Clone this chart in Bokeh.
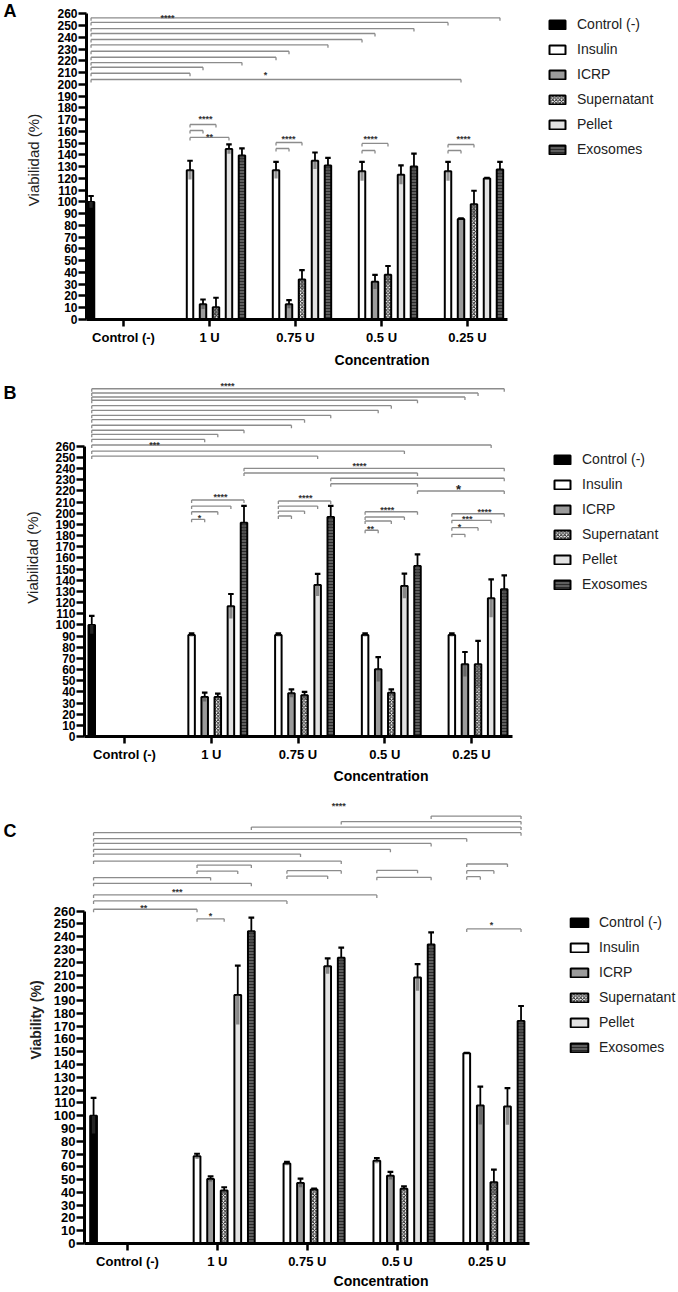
import math
from bokeh.plotting import figure
from bokeh.models import ColumnDataSource, FixedTicker, Legend, LegendItem, Range1d
from bokeh.layouts import column, row
from bokeh.embed import file_html
from bokeh.resources import INLINE
from bokeh.core.properties import value

concentrations = ["Control (-)", "1 U", "0.75 U", "0.5 U", "0.25 U"]
series_names = ["Control (-)", "Insulin", "ICRP", "Supernatant", "Pellet", "Exosomes"]
y_ticks = list(range(0, 261, 10))

# ---------------- Panel A ----------------
a_control = [100.0]
a_control_err = [5.0]
a_insulin = [127, 127, 126, 126]
a_insulin_err = [8, 7, 8, 8]
a_icrp = [13, 13, 32, 85.5]
a_icrp_err = [4, 3.5, 6, 0.5]
a_super = [10.5, 34, 38, 98]
a_super_err = [8, 8, 7.5, 11.5]
a_pellet = [145, 135, 123, 120]
a_pellet_err = [4, 7, 8, 0.5]
a_exo = [139.5, 131, 130, 127.5]
a_exo_err = [6, 6.5, 11, 6.5]
# brackets: (from group, from slot, to group, to slot, height)
a_brackets = [
    (0, 0, 4, 5, 256.5), (0, 0, 4, 1, 252.6), (0, 0, 3, 5, 247.4), (0, 0, 3, 2, 243.2),
    (0, 0, 3, 1, 238.1), (0, 0, 2, 5, 233.6), (0, 0, 2, 2, 228.1), (0, 0, 2, 1, 223.0),
    (0, 0, 1, 5, 218.5), (0, 0, 1, 2, 214.5), (0, 0, 1, 1, 209.4), (0, 0, 4, 2, 204.1),
    (1, 1, 1, 3, 165.8), (1, 1, 1, 2, 160.7), (1, 1, 1, 4, 154.8),
    (2, 1, 2, 3, 150.5), (2, 1, 2, 2, 145.4),
    (3, 1, 3, 3, 149.7), (3, 1, 3, 2, 143.7),
    (4, 1, 4, 3, 148.8), (4, 1, 4, 2, 143.7),
]
a_stars = [
    (0.512, 258.5, "****"), (1.651, 209.4, "*"), (0.953, 171.8, "****"), (1.0, 156.5, "**"),
    (1.919, 154.8, "****"), (2.872, 155.6, "****"), (3.953, 154.8, "****"),
]
a_big_stars = []

# ---------------- Panel B ----------------
b_control = [100.0]
b_control_err = [8.0]
b_insulin = [91, 91, 91, 91]
b_insulin_err = [1.5, 1.5, 1.5, 1.5]
b_icrp = [35.4, 38.7, 60.2, 64.7]
b_icrp_err = [4, 3.6, 11, 11]
b_super = [35.4, 36.9, 39.3, 64.7]
b_super_err = [3, 3, 3, 21]
b_pellet = [116.7, 135.8, 134.9, 123.8]
b_pellet_err = [11, 10, 11, 17]
b_exo = [191.6, 196.7, 152.8, 131.9]
b_exo_err = [15, 10, 10.4, 12.5]
b_brackets = [
    (0, 0, 4, 5, 311.6), (0, 0, 4, 3, 307.8), (0, 0, 4, 2, 304.2), (0, 0, 3, 5, 301.3),
    (0, 0, 3, 3, 296.4), (0, 0, 3, 2, 292.3), (0, 0, 2, 5, 287.8), (0, 0, 2, 3, 283.9),
    (0, 0, 2, 2, 278.9), (0, 0, 1, 5, 274.4), (0, 0, 1, 3, 270.8), (0, 0, 1, 2, 266.3),
    (0, 0, 4, 4, 261.2), (0, 0, 3, 4, 255.8), (0, 0, 2, 4, 251.3),
    (1, 5, 4, 5, 240.3), (1, 5, 3, 5, 236.1), (2, 5, 4, 5, 231.4), (2, 5, 3, 5, 226.5),
    (3, 5, 4, 5, 220.0),
    (1, 1, 1, 5, 211.9), (1, 1, 1, 4, 206.5), (1, 1, 1, 3, 201.4), (1, 1, 1, 2, 194.6),
    (2, 1, 2, 5, 211.0), (2, 1, 2, 4, 206.5), (2, 1, 2, 3, 202.0), (2, 1, 2, 2, 197.6),
    (3, 1, 3, 5, 201.4), (3, 1, 3, 4, 196.7), (3, 1, 3, 3, 193.1), (3, 1, 3, 2, 184.8),
    (4, 1, 4, 5, 199.6), (4, 1, 4, 4, 193.7), (4, 1, 4, 3, 187.1), (4, 1, 4, 2, 181.2),
]
b_stars = [
    (1.187, 315.9, "****"), (0.346, 263.3, "***"), (2.709, 244.2, "****"),
    (1.107, 216.4, "****"), (0.865, 197.6, "*"), (2.086, 215.5, "****"),
    (3.028, 204.5, "****"), (2.836, 187.7, "**"), (4.15, 202.7, "****"),
    (3.95, 197.0, "***"), (3.862, 189.5, "*"),
]
b_big_stars = [(3.85, 224.4, "*")]

# ---------------- Panel C ----------------
c_control = [100.0]
c_control_err = [14.0]
c_insulin = [68.2, 62.5, 64.8, 148.9]
c_insulin_err = [2, 1.3, 2, 0.3]
c_icrp = [50.5, 47.4, 53.1, 108]
c_icrp_err = [2, 3.3, 3, 14.8]
c_super = [41.4, 42.2, 42.9, 47.9]
c_super_err = [2.6, 0.8, 1.8, 9.9]
c_pellet = [194.4, 217, 208.2, 107.2]
c_pellet_err = [23, 6, 10.4, 14.3]
c_exo = [244.3, 223.5, 234, 174.1]
c_exo_err = [10.7, 8, 9.4, 11.7]
c_brackets = [
    (3, 5, 4, 5, 334.4), (2, 5, 4, 5, 330.1), (1, 5, 4, 5, 325.8), (0, 0, 4, 5, 321.4),
    (0, 0, 4, 1, 316.7), (0, 0, 3, 5, 313.0), (0, 0, 3, 2, 308.4), (0, 0, 2, 2, 304.7),
    (0, 0, 2, 5, 299.2),
    (1, 1, 1, 5, 296.1), (1, 1, 1, 4, 291.4),
    (2, 1, 2, 5, 291.7), (2, 1, 2, 4, 287.5),
    (3, 1, 3, 4, 292.0), (3, 1, 3, 5, 286.5),
    (4, 1, 4, 4, 296.9), (4, 1, 4, 3, 291.7), (4, 1, 4, 2, 287.0),
    (0, 0, 1, 2, 286.3), (0, 0, 1, 5, 281.8), (0, 0, 3, 1, 272.7), (0, 0, 2, 1, 268.0),
    (0, 0, 1, 1, 261.5),
    (1, 1, 1, 3, 254.0), (4, 1, 4, 5, 246.1),
]
c_stars = [
    (2.35, 344.0, "****"), (0.553, 276.6, "***"), (0.181, 264.1, "**"),
    (0.923, 257.6, "*"), (4.049, 250.6, "*"),
]
c_big_stars = []

panel_letters = ["A", "B", "C"]

SLOT = 0.151
BAR_W = 0.075
FONT = "Liberation Sans"
LETTER_W = 20
TOTAL_W = 677

STYLES = [
    dict(fill_color="black"),
    dict(fill_color="white"),
    dict(fill_color="#9b9b9b"),
    dict(fill_color="white", hatch_pattern="diagonal_cross", hatch_color="#222222",
         hatch_scale=3.5, hatch_weight=1.0),
    dict(fill_color="#e2e2e2"),
    dict(fill_color="#5e5e5e", hatch_pattern="horizontal_line", hatch_color="#2a2a2a",
         hatch_scale=3.0, hatch_weight=1.0),
]


def sx(g, j):
    return g + (j - 2.5) * SLOT


def letter_fig(L, letter, letter_page_y):
    H = L["bottom"] - L["top"]
    f = figure(width=LETTER_W, height=H, x_range=Range1d(0, LETTER_W), y_range=Range1d(0, H),
               output_backend="svg", toolbar_location=None, title=None,
               x_axis_location=None, y_axis_location=None, min_border=0)
    f.outline_line_color = None
    f.grid.visible = False
    f.background_fill_color = "white"
    f.border_fill_color = "white"
    f.text(x=[3], y=[H - (letter_page_y - L["top"])], text=[letter], text_font=value(FONT),
           text_font_size="18px", text_font_style="bold", text_color="black",
           text_align="left", text_baseline="middle")
    return f


def make_panel(L, series, brackets, stars, big_stars, ylabel, ylabel_bold, ylabel_size,
               ylabel_standoff, ytick_size, xtick_out, xtick_standoff, xlabel_standoff,
               legend_px, glyph_w, legend_font, legend_standoff):
    W = TOTAL_W - LETTER_W
    mbl = L["frame_left"] - LETTER_W
    fw = W - mbl
    ppg, ppu = L["ppg"], L["ppu"]
    x0 = (L["frame_left"] - L["tick0"]) / ppg
    x1 = x0 + fw / ppg
    fh = L["zero"] - L["top"]
    y1 = fh / ppu
    H = L["bottom"] - L["top"]
    p = figure(width=W, height=H, x_range=Range1d(x0, x1), y_range=Range1d(0, y1),
               output_backend="svg", toolbar_location=None, title=None,
               min_border_left=mbl, min_border_right=0, min_border_top=0,
               min_border_bottom=L["bottom"] - L["zero"])
    p.outline_line_color = None
    p.grid.visible = False
    p.background_fill_color = "white"
    p.border_fill_color = "white"

    xa = p.xaxis[0]
    xa.ticker = FixedTicker(ticks=list(range(len(concentrations))))
    xa.major_label_overrides = {i: t for i, t in enumerate(concentrations)}
    xa.bounds = (x0, (L["axis_end"] - L["tick0"]) / ppg)
    xa.axis_line_width = 3
    xa.axis_line_color = "black"
    xa.major_tick_line_width = 2.5
    xa.major_tick_out = xtick_out
    xa.major_tick_in = 0
    xa.minor_tick_out = 0
    xa.minor_tick_in = 0
    xa.major_label_text_font = FONT
    xa.major_label_text_font_size = "13px"
    xa.major_label_text_font_style = "bold"
    xa.major_label_text_color = "black"
    xa.major_label_standoff = xtick_standoff
    xa.axis_label = "Concentration"
    xa.axis_label_text_font = FONT
    xa.axis_label_text_font_size = "14px"
    xa.axis_label_text_font_style = "bold"
    xa.axis_label_text_color = "black"
    xa.axis_label_standoff = xlabel_standoff

    ya = p.yaxis[0]
    ya.ticker = FixedTicker(ticks=y_ticks)
    ya.bounds = (0, 260)
    ya.axis_line_width = 3
    ya.axis_line_color = "black"
    ya.major_tick_line_width = 2.5
    ya.major_tick_out = 8
    ya.major_tick_in = 0
    ya.minor_tick_out = 0
    ya.minor_tick_in = 0
    ya.major_label_text_font = FONT
    ya.major_label_text_font_size = ytick_size
    ya.major_label_text_font_style = "bold"
    ya.major_label_text_color = "black"
    ya.major_label_standoff = 1
    ya.axis_label = ylabel
    ya.axis_label_text_font = FONT
    ya.axis_label_text_font_size = ylabel_size
    ya.axis_label_text_font_style = "bold" if ylabel_bold else "normal"
    ya.axis_label_text_color = "#222222"
    ya.axis_label_standoff = ylabel_standoff

    renderers = []
    cap = 0.032
    for s, (vals, errs) in enumerate(series):
        groups = [0] if s == 0 else [1, 2, 3, 4]
        xs = [sx(g, s) for g in groups]
        src = ColumnDataSource(dict(
            x=xs, top=vals,
            lo=[v - e for v, e in zip(vals, errs)],
            hi=[v + e for v, e in zip(vals, errs)],
            cl=[x - cap for x in xs], cr=[x + cap for x in xs]))
        r = p.vbar(x="x", top="top", bottom=0, width=BAR_W, source=src,
                   line_color="black", line_width=2, **STYLES[s])
        renderers.append(r)
        p.vbar(x="x", top="top", bottom="lo", width=BAR_W * 0.5, source=src,
               fill_color="#404040", fill_alpha=0.55, line_color=None)
        p.segment(x0="x", y0="top", x1="x", y1="hi", source=src,
                  line_color="black", line_width=1.8)
        p.segment(x0="cl", y0="hi", x1="cr", y1="hi", source=src,
                  line_color="black", line_width=2.2)

    t = 3.0 / ppu
    bx0, by0, bx1, by1 = [], [], [], []
    for (g0, j0, g1, j1, y) in brackets:
        xa_, xb_ = sx(g0, j0), sx(g1, j1)
        bx0 += [xa_, xa_, xb_]
        bx1 += [xb_, xa_, xb_]
        by0 += [y, y, y]
        by1 += [y, y - t, y - t]
    p.segment(x0=bx0, y0=by0, x1=bx1, y1=by1, line_color="#8c8c8c", line_width=1.3)

    if stars:
        dy = 2.0 / ppu
        p.text(x=[s_[0] for s_ in stars], y=[s_[1] - dy for s_ in stars],
               text=[s_[2] for s_ in stars], text_font=value(FONT), text_font_size="9px",
               text_font_style="bold", text_color="#333333", text_align="center",
               text_baseline="middle")
    if big_stars:
        dy = 3.0 / ppu
        p.text(x=[s_[0] for s_ in big_stars], y=[s_[1] - dy for s_ in big_stars],
               text=[s_[2] for s_ in big_stars], text_font=value(FONT), text_font_size="13px",
               text_font_style="bold", text_color="#222222", text_align="center",
               text_baseline="middle")

    legend = Legend(items=[LegendItem(label=n, renderers=[r]) for n, r in zip(series_names, renderers)],
                    location=legend_px, glyph_width=glyph_w, glyph_height=11, label_height=20,
                    spacing=5, padding=0, margin=0, label_standoff=legend_standoff,
                    label_text_font=FONT, label_text_font_size=legend_font,
                    label_text_color="#222222",
                    border_line_color=None, background_fill_alpha=0)
    p.add_layout(legend)
    return p


LA = dict(top=0, zero=319, bottom=378, ppu=1.176, ppg=86.0, tick0=123, frame_left=86, axis_end=507)
LB = dict(top=378, zero=736, bottom=796, ppu=1.116, ppg=86.75, tick0=124, frame_left=84, axis_end=511.7)
LC = dict(top=796, zero=1244, bottom=1291, ppu=1.281, ppg=89.9, tick0=127, frame_left=84, axis_end=529)

pA = make_panel(LA,
                [(a_control, a_control_err), (a_insulin, a_insulin_err), (a_icrp, a_icrp_err),
                 (a_super, a_super_err), (a_pellet, a_pellet_err), (a_exo, a_exo_err)],
                a_brackets, a_stars, a_big_stars,
                "Viabilidad (%)", False, "15px", 12, "12px", 7, 3, 4,
                (547 - 86, 319 - 159), 20, "14px", 10)
pB = make_panel(LB,
                [(b_control, b_control_err), (b_insulin, b_insulin_err), (b_icrp, b_icrp_err),
                 (b_super, b_super_err), (b_pellet, b_pellet_err), (b_exo, b_exo_err)],
                b_brackets, b_stars, b_big_stars,
                "Viabilidad (%)", False, "15px", 11, "12px", 7, 3, 3,
                (552 - 84, 736 - 594), 20, "14px", 10)
pC = make_panel(LC,
                [(c_control, c_control_err), (c_insulin, c_insulin_err), (c_icrp, c_icrp_err),
                 (c_super, c_super_err), (c_pellet, c_pellet_err), (c_exo, c_exo_err)],
                c_brackets, c_stars, c_big_stars,
                "Viability (%)", True, "14px", 7, "13px", 7, 3, 1,
                (568 - 84, 1244 - 1058), 22, "14px", 9)

rows = [
    row(letter_fig(LA, panel_letters[0], 12), pA, spacing=0),
    row(letter_fig(LB, panel_letters[1], 395), pB, spacing=0),
    row(letter_fig(LC, panel_letters[2], 834), pC, spacing=0),
]
layout = column(*rows, spacing=0)
open("out.html", "w").write(file_html(layout, INLINE))
